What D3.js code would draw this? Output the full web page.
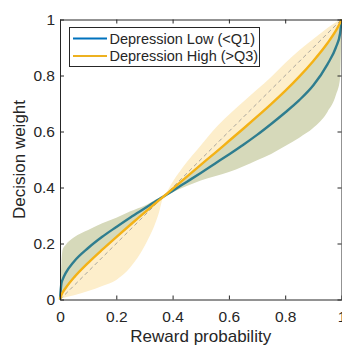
<!DOCTYPE html>
<html>
<head>
<meta charset="utf-8">
<script src="https://cdn.jsdelivr.net/npm/d3@7"></script>
<style>
  html, body { margin: 0; padding: 0; background: #fff; }
  svg { display: block; font-family: "Liberation Sans", Arial, Helvetica, sans-serif; }
</style>
</head>
<body>
<svg id="chart" width="342" height="347"></svg>
<script>
// reward probability grid (x)
const probs = [0, 0.005, 0.01, 0.02, 0.05, 0.1, 0.15, 0.2, 0.25, 0.3, 0.35, 0.368, 0.4, 0.45, 0.5, 0.55, 0.6, 0.65, 0.7, 0.75, 0.8, 0.85, 0.9, 0.95, 0.98, 0.995, 1];

// mean decision weight curves
const lowMean  = [0, 0.057, 0.073, 0.094, 0.136, 0.184, 0.224, 0.259, 0.293, 0.325, 0.357, 0.368, 0.388, 0.42, 0.452, 0.485, 0.518, 0.552, 0.588, 0.627, 0.668, 0.712, 0.765, 0.84, 0.9, 0.95, 1];
const highMean = [0, 0.016, 0.026, 0.041, 0.079, 0.131, 0.178, 0.223, 0.267, 0.31, 0.353, 0.368, 0.395, 0.438, 0.481, 0.523, 0.566, 0.609, 0.653, 0.698, 0.745, 0.796, 0.852, 0.915, 0.96, 0.988, 1];

// shaded bands
const lowBandUpper  = [0, 0.13, 0.18, 0.195, 0.222, 0.248, 0.272, 0.292, 0.315, 0.335, 0.362, 0.368, 0.399, 0.442, 0.485, 0.527, 0.57, 0.613, 0.657, 0.702, 0.749, 0.8, 0.856, 0.919, 0.963, 0.99, 1];
const lowBandLower  = [0, 0.012, 0.022, 0.037, 0.075, 0.127, 0.174, 0.219, 0.263, 0.306, 0.349, 0.368, 0.383, 0.405, 0.425, 0.44, 0.455, 0.475, 0.497, 0.52, 0.548, 0.578, 0.613, 0.67, 0.73, 0.79, 1];
const highBandUpper = [0, 0.06, 0.08, 0.1, 0.13, 0.17, 0.21, 0.25, 0.28, 0.32, 0.36, 0.368, 0.42, 0.49, 0.55, 0.61, 0.66, 0.705, 0.75, 0.795, 0.845, 0.89, 0.93, 0.97, 0.99, 0.998, 1];
const highBandLower = [0, 0.003, 0.005, 0.008, 0.015, 0.03, 0.048, 0.07, 0.115, 0.19, 0.305, 0.368, 0.39, 0.42, 0.445, 0.47, 0.495, 0.52, 0.55, 0.58, 0.61, 0.65, 0.7, 0.77, 0.84, 0.9, 1];

const xTicks = [0, 0.2, 0.4, 0.6, 0.8, 1];
const yTicks = [0, 0.2, 0.4, 0.6, 0.8, 1];
const legendLabels = ['Depression Low (<Q1)', 'Depression High (>Q3)'];

const svg = d3.select('#chart');
const mLeft = 60, mRight = 341.5, mTop = 19.5, mBottom = 299.5;

const x = d3.scaleLinear().domain([0, 1]).range([mLeft, mRight]);
const y = d3.scaleLinear().domain([0, 1]).range([mBottom, mTop]);

const axisCol = '#262626';

function band(up, lo) {
    return d3.area()
        .x((d, i) => x(probs[i]))
        .y0((d, i) => y(lo[i]))
        .y1((d, i) => y(up[i]))
        .curve(d3.curveMonotoneX)(probs);
}
function line(vals) {
    return d3.line()
        .x((d, i) => x(probs[i]))
        .y((d, i) => y(vals[i]))
        .curve(d3.curveMonotoneX)(probs);
}

const plot = svg.append('g');

plot.append('path').attr('d', band(highBandUpper, highBandLower)).attr('fill', '#fdeecb');
plot.append('path').attr('d', band(lowBandUpper, lowBandLower)).attr('fill', '#d6d9ba');

// identity diagonal
plot.append('line')
    .attr('x1', x(0)).attr('y1', y(0))
    .attr('x2', x(1)).attr('y2', y(1))
    .attr('stroke', '#a9a59c').attr('stroke-width', 1)
    .attr('stroke-dasharray', '4,3');

plot.append('path').attr('d', line(lowMean))
    .attr('fill', 'none').attr('stroke', '#2e7d8f').attr('stroke-width', 2.4);
plot.append('path').attr('d', line(highMean))
    .attr('fill', 'none').attr('stroke', '#f4b216').attr('stroke-width', 2.4);

// axes (ticks pointing inward, box on)
const fmt = d => d === 0 || d === 1 ? String(d) : d.toFixed(1);

const gx = svg.append('g').attr('transform', `translate(0,${mBottom})`)
    .call(d3.axisBottom(x).tickValues(xTicks).tickFormat(fmt).tickSizeInner(-4).tickSizeOuter(0).tickPadding(11));
const gy = svg.append('g').attr('transform', `translate(${mLeft},0)`)
    .call(d3.axisLeft(y).tickValues(yTicks).tickFormat(fmt).tickSizeInner(-4).tickSizeOuter(0).tickPadding(5));
const gt = svg.append('g').attr('transform', `translate(0,${mTop})`)
    .call(d3.axisTop(x).tickValues(xTicks).tickFormat('').tickSizeInner(-4).tickSizeOuter(0));
const gr = svg.append('g').attr('transform', `translate(${mRight},0)`)
    .call(d3.axisRight(y).tickValues(yTicks).tickFormat('').tickSizeInner(-4).tickSizeOuter(0));

[gx, gy, gt, gr].forEach(g => {
    g.selectAll('path.domain').attr('stroke', axisCol).attr('stroke-width', 1);
    g.selectAll('line').attr('stroke', axisCol).attr('stroke-width', 1);
    g.selectAll('text').attr('fill', axisCol).attr('font-size', 15.5)
        .attr('font-family', '"Liberation Sans", Arial, sans-serif');
});

svg.append('text')
    .attr('x', (mLeft + mRight) / 2).attr('y', 342)
    .attr('text-anchor', 'middle').attr('font-size', 17).attr('fill', axisCol)
    .text('Reward probability');

svg.append('text')
    .attr('transform', `translate(25,${(mTop + mBottom) / 2}) rotate(-90)`)
    .attr('text-anchor', 'middle').attr('font-size', 17).attr('fill', axisCol)
    .text('Decision weight');

// legend
const lg = svg.append('g');
lg.append('rect')
    .attr('x', 69.5).attr('y', 27.5).attr('width', 190).attr('height', 39)
    .attr('fill', '#fff').attr('stroke', axisCol).attr('stroke-width', 1);

const legendCols = ['#0072BD', '#EDB120'];
legendLabels.forEach((lab, i) => {
    const ly = 38.5 + i * 17.5;
    lg.append('line')
        .attr('x1', 73).attr('x2', 107).attr('y1', ly).attr('y2', ly)
        .attr('stroke', legendCols[i]).attr('stroke-width', 2);
    lg.append('text')
        .attr('x', 109.5).attr('y', ly + 5)
        .attr('font-size', 14.5).attr('fill', axisCol)
        .text(lab);
});
</script>
</body>
</html>
